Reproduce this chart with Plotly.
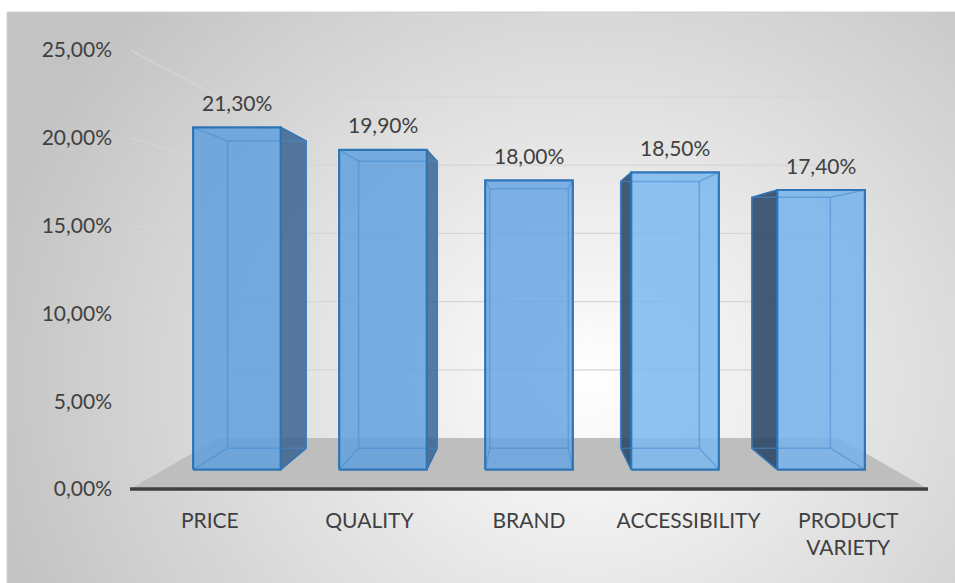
import base64
import math
import struct
import zlib

import plotly.graph_objects as go

# ---- data -------------------------------------------------------------
categories = ["PRICE", "QUALITY", "BRAND", "ACCESSIBILITY", "PRODUCT<br>VARIETY"]
values = [21.3, 19.9, 18.0, 18.5, 17.4]
y_ticks = [0, 5, 10, 15, 20, 25]


def pct(v):
    return f"{v:.2f}".replace(".", ",") + "%"


# ---- page / front-plane geometry (pixels) -----------------------------
W, H = 955, 583
FX0, FX1 = 130, 928          # left / right edge of the front floor edge
FY0, FYTOP = 489, 50         # pixel rows of 0 % and of the top tick
L_MARGIN, B_MARGIN = 113, 77
plot_bottom = H - B_MARGIN
n = len(categories)
ppx = (FX1 - FX0) / n
ppy = (FY0 - FYTOP) / y_ticks[-1]
x_range = [(L_MARGIN - FX0) / ppx, (W - FX0) / ppx]
y_range = [(FY0 - plot_bottom) / ppy, FY0 / ppy]

# ---- simple perspective: shrink toward a vanishing point --------------
VX, VY = n / 2, 13.0          # vanishing point in axis units
S_WALL = 0.777                # depth of the back wall / floor back edge
S_FRONT = 0.915               # depth of a bar's front face
S_BACK = 0.821                # depth of a bar's back face
HALF_W = 0.30                 # half bar width (category units)


def proj(x, v, s):
    return VX + s * (x - VX), VY + s * (v - VY)


def poly(pts):
    xs = [p[0] for p in pts] + [pts[0][0]]
    ys = [p[1] for p in pts] + [pts[0][1]]
    return xs, ys


def segs(pairs):
    xs, ys = [], []
    for a, b in pairs:
        xs += [a[0], b[0], None]
        ys += [a[1], b[1], None]
    return xs, ys


fig = go.Figure()
common = dict(hoverinfo="skip", showlegend=False)

# ---- wall gridlines ----------------------------------------------------
grid_pairs = []
for v in y_ticks[1:]:
    grid_pairs.append((proj(0, v, S_WALL), proj(n, v, S_WALL)))   # back wall
    grid_pairs.append(((0, v), proj(0, v, S_WALL)))              # left wall
gx, gy = segs(grid_pairs)
fig.add_trace(go.Scatter(x=gx, y=gy, mode="lines",
                         line=dict(color="#d6d6d6", width=1.2), **common))

# ---- floor -------------------------------------------------------------
fx, fy = poly([(0, 0), (n, 0), proj(n, 0, S_WALL), proj(0, 0, S_WALL)])
fig.add_trace(go.Scatter(x=fx, y=fy, mode="lines", fill="toself",
                         fillcolor="#bebebe", line=dict(width=0), **common))
# front edge of the floor (category axis line)
fig.add_trace(go.Scatter(x=[0, n], y=[0, 0], mode="lines",
                         line=dict(color="#404040", width=3.5), **common))

# ---- bars --------------------------------------------------------------
# lighting gets a little brighter toward the right of the chart
FRONT_FILLS = ["rgba(95,158,222,0.84)", "rgba(97,160,223,0.84)",
               "rgba(102,165,226,0.84)", "rgba(122,184,240,0.84)",
               "rgba(116,178,236,0.84)"]
SIDE_FILL_RIGHT = "rgba(50,92,140,0.80)"
SIDE_FILL_LEFT = "rgba(38,66,98,0.86)"
EDGE = "#2e75b6"
INNER = "rgba(70,140,210,0.55)"

annotations = []
for i, v in enumerate(values):
    c = i + 0.5
    xl, xr = c - HALF_W, c + HALF_W
    f_lb, f_rb = proj(xl, 0, S_FRONT), proj(xr, 0, S_FRONT)
    f_lt, f_rt = proj(xl, v, S_FRONT), proj(xr, v, S_FRONT)
    b_lb, b_rb = proj(xl, 0, S_BACK), proj(xr, 0, S_BACK)
    b_lt, b_rt = proj(xl, v, S_BACK), proj(xr, v, S_BACK)

    # outer side face turned toward the viewer
    if xr < VX - 1e-9:
        side, side_fill = [f_rb, f_rt, b_rt, b_rb], SIDE_FILL_RIGHT
        hidden = [(f_lb, b_lb), (f_lt, b_lt)]
    elif xl > VX + 1e-9:
        side, side_fill = [f_lb, f_lt, b_lt, b_lb], SIDE_FILL_LEFT
        hidden = [(f_rb, b_rb), (f_rt, b_rt)]
    else:
        side, side_fill = None, None
        hidden = [(f_lb, b_lb), (f_lt, b_lt), (f_rb, b_rb), (f_rt, b_rt)]

    if side:
        sx, sy = poly(side)
        fig.add_trace(go.Scatter(x=sx, y=sy, mode="lines", fill="toself",
                                 fillcolor=side_fill,
                                 line=dict(color=EDGE, width=1.5), **common))

    # front face
    ffx, ffy = poly([f_lb, f_lt, f_rt, f_rb])
    fig.add_trace(go.Scatter(x=ffx, y=ffy, mode="lines", fill="toself",
                             fillcolor=FRONT_FILLS[i], line=dict(width=0), **common))

    # edges seen through the translucent front face
    inner_pairs = [(b_lb, b_lt), (b_lt, b_rt), (b_rt, b_rb), (b_rb, b_lb)] + hidden
    ix, iy = segs(inner_pairs)
    fig.add_trace(go.Scatter(x=ix, y=iy, mode="lines",
                             line=dict(color=INNER, width=1.5), **common))

    # front face outline
    fig.add_trace(go.Scatter(x=ffx, y=ffy, mode="lines",
                             line=dict(color=EDGE, width=2.2), **common))

    annotations.append(dict(x=(f_lt[0] + f_rt[0]) / 2, y=f_lt[1], text=pct(v),
                            showarrow=False, yanchor="middle", yshift=25,
                            font=dict(family="Lato", size=21, color="#404040")))


# ---- radial grey background (small PNG, stretched) ---------------------
def radial_png(w, h, scale):
    cx, cy, rx, ry = 590, 380, 620, 560
    rows = []
    for j in range(h):
        row = bytearray([0])
        py = 12 + (j + 0.5) * scale
        for k in range(w):
            px = 7 + (k + 0.5) * scale
            t = min(1.0, math.hypot((px - cx) / rx, (py - cy) / ry))
            g = int(round(255 - 60 * t))
            row += bytes([g, g, g])
        rows.append(bytes(row))
    raw = b"".join(rows)

    def chunk(tag, data):
        c = struct.pack(">I", len(data)) + tag + data
        return c + struct.pack(">I", zlib.crc32(tag + data) & 0xFFFFFFFF)

    png = b"\x89PNG\r\n\x1a\n"
    png += chunk(b"IHDR", struct.pack(">IIBBBBB", w, h, 8, 2, 0, 0, 0))
    png += chunk(b"IDAT", zlib.compress(raw, 9))
    png += chunk(b"IEND", b"")
    return "data:image/png;base64," + base64.b64encode(png).decode()


plot_w = W - L_MARGIN
bg_scale = 5
bg_w = math.ceil((W - 7) / bg_scale)
bg_h = math.ceil((H - 12) / bg_scale)


def px_to_paper_x(px):
    return (px - L_MARGIN) / plot_w


def px_to_paper_y(py):
    return (plot_bottom - py) / plot_bottom


fig.update_layout(
    width=W, height=H,
    margin=dict(l=L_MARGIN, r=0, t=0, b=B_MARGIN, pad=0),
    paper_bgcolor="white",
    plot_bgcolor="rgba(0,0,0,0)",
    font=dict(family="Lato", size=21, color="#404040"),
    images=[dict(source=radial_png(bg_w, bg_h, bg_scale), xref="paper", yref="paper",
                 x=px_to_paper_x(7), y=px_to_paper_y(12),
                 sizex=(W - 7) / plot_w, sizey=(H - 12) / plot_bottom,
                 xanchor="left", yanchor="top", sizing="stretch", layer="below")],
    shapes=[dict(type="rect", xref="paper", yref="paper",
                 x0=px_to_paper_x(7), x1=px_to_paper_x(W + 2),
                 y0=px_to_paper_y(H + 2), y1=px_to_paper_y(12),
                 line=dict(color="#d0d0d0", width=1), layer="below")],
    annotations=annotations,
    xaxis=dict(range=x_range, showgrid=False, zeroline=False, showline=False,
               tickmode="array", tickvals=[i + 0.5 for i in range(n)],
               ticktext=categories, ticks="", fixedrange=True),
    yaxis=dict(range=y_range, showgrid=False, zeroline=False, showline=False,
               tickmode="array", tickvals=y_ticks,
               ticktext=[pct(t) for t in y_ticks], ticks="", fixedrange=True),
)

fig.write_html("out.html")
